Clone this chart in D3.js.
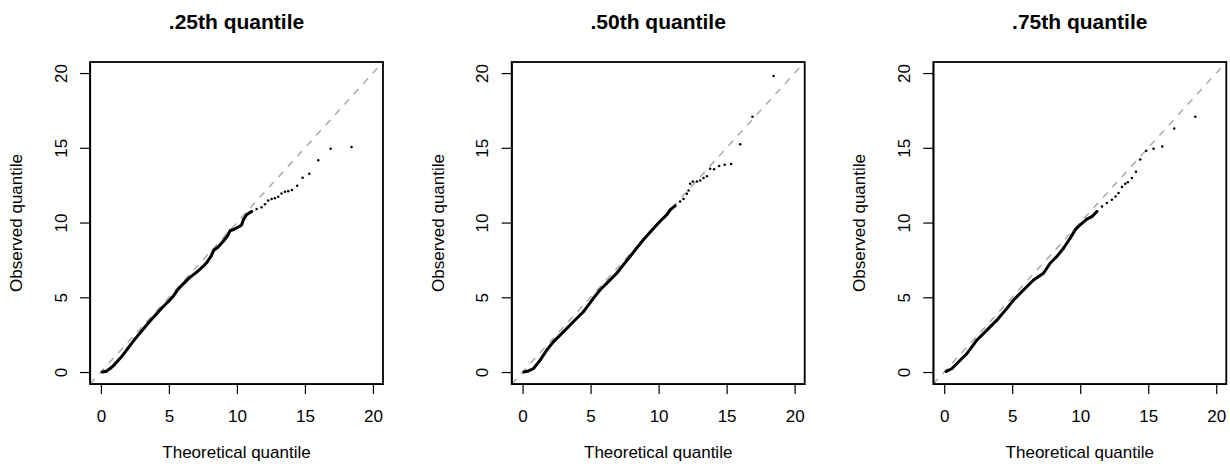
<!DOCTYPE html>
<html>
<head>
<meta charset="utf-8">
<script src="https://cdn.jsdelivr.net/npm/d3@7"></script>
<style>
	body { margin: 0; background: #fff; }
	text { font-family: 'Liberation Sans', Arial, sans-serif; fill: #000; }
</style>
</head>
<body>
<script>
// Panel titles and tick labels
const titles = ['.25th quantile', '.50th quantile', '.75th quantile']
const ticks = [0, 5, 10, 15, 20]

// .25th quantile: theoretical vs observed
const theo25 = [0.1, 0.4, 0.7, 1.0, 1.5, 2.0, 2.5, 3.0, 3.5, 4.0, 4.5, 5.0, 5.3, 5.6, 6.0, 6.5, 7.0, 7.5, 7.8, 8.1, 8.3, 8.6, 9.0, 9.3, 9.5, 9.8, 10.2, 10.35, 10.47, 10.71, 11.08, 11.45, 11.81,
	12.06, 12.3, 12.55, 12.79, 13.04, 13.28, 13.53, 13.77, 14.04, 14.43, 14.83, 15.32, 15.98, 16.89, 18.43]
const obs25 = [0.0, 0.05, 0.25, 0.5, 1.0, 1.6, 2.2, 2.75, 3.3, 3.8, 4.3, 4.75, 5.05, 5.45, 5.85, 6.3, 6.65, 7.05, 7.35, 7.75, 8.15, 8.35, 8.75, 9.1, 9.45, 9.55, 9.75, 9.85, 10.18, 10.52, 10.74, 10.9, 11.03,
	11.23, 11.48, 11.57, 11.63, 11.72, 11.95, 12.06, 12.1, 12.17, 12.46, 13.0, 13.27, 14.16, 14.93, 15.06]

// .50th quantile
const theo50 = [0.1, 0.42, 0.79, 1.28, 1.77, 2.26, 3.0, 3.73, 4.47, 5.2, 5.69, 6.18, 6.92, 7.41, 7.9, 8.39, 8.88, 9.37, 9.87, 10.35, 10.6, 10.85, 11.21, 11.58,
	11.83, 12.08, 12.2, 12.32, 12.52, 12.82, 13.06, 13.3, 13.55, 13.79, 14.08, 14.45, 14.86, 15.33, 16.0, 16.9, 18.45]
const obs50 = [0.0, 0.07, 0.22, 0.78, 1.46, 2.02, 2.69, 3.36, 4.03, 4.93, 5.49, 5.93, 6.61, 7.17, 7.73, 8.29, 8.85, 9.35, 9.85, 10.3, 10.52, 10.85, 11.12, 11.41,
	11.57, 11.93, 12.15, 12.6, 12.75, 12.75, 12.82, 12.98, 13.09, 13.6, 13.56, 13.78, 13.87, 13.92, 15.24, 17.07, 19.8]

// .75th quantile
const theo75 = [0.15, 0.56, 1.05, 1.67, 2.4, 3.14, 3.87, 4.61, 5.1, 5.83, 6.57, 7.3, 7.79, 8.28, 8.77, 9.26, 9.63, 10.0, 10.49, 10.86, 11.23,
	11.6, 11.96, 12.33, 12.6, 12.82, 13.07, 13.31, 13.5, 13.8, 14.1, 14.41, 14.85, 15.39, 16.03, 16.91, 18.46]
const obs75 = [0.04, 0.22, 0.67, 1.23, 2.13, 2.8, 3.47, 4.26, 4.82, 5.49, 6.16, 6.61, 7.28, 7.73, 8.28, 8.95, 9.51, 9.85, 10.23, 10.4, 10.74,
	11.07, 11.3, 11.52, 11.75, 11.97, 12.37, 12.6, 12.69, 12.98, 13.4, 14.21, 14.81, 14.93, 15.08, 16.29, 17.07]

// where the points are so dense they merge into a line
const denseUntil = [11.1, 11.3, 11.3]

const panels = [
	{ title: titles[0], theo: theo25, obs: obs25 },
	{ title: titles[1], theo: theo50, obs: obs50 },
	{ title: titles[2], theo: theo75, obs: obs75 }
]

const svg = d3.select('body').append('svg').attr('width', 1230).attr('height', 466)

const lefts = [90, 511.7, 933.3]
const boxW = 293
const boxTop = 62
const boxBottom = 384
const lim = [-0.8, 20.74]
const fontSize = 17

panels.forEach((p, i) => {
	const left = lefts[i]
	const x = d3.scaleLinear().domain(lim).range([left, left + boxW])
	const y = d3.scaleLinear().domain(lim).range([boxBottom, boxTop])
	const pts = p.theo.map((t, j) => ({ t: t, o: p.obs[j] }))

	const clipId = 'clip' + i
	svg.append('clipPath').attr('id', clipId)
		.append('rect').attr('x', left).attr('y', boxTop).attr('width', boxW).attr('height', boxBottom - boxTop)

	const g = svg.append('g').attr('clip-path', `url(#${clipId})`)

	// reference line y = x
	g.append('line')
		.attr('x1', x(lim[0])).attr('y1', y(lim[0]))
		.attr('x2', x(lim[1])).attr('y2', y(lim[1]))
		.attr('stroke', '#aaaaaa')
		.attr('stroke-width', 1.5)
		.attr('stroke-dasharray', '7,7')

	// dense part drawn as a thick run of points
	const line = d3.line().x(d => x(d.t)).y(d => y(d.o))
	g.append('path')
		.datum(pts.filter(d => d.t <= denseUntil[i]))
		.attr('d', line)
		.attr('fill', 'none')
		.attr('stroke', '#000')
		.attr('stroke-width', 3)
		.attr('stroke-linejoin', 'round')
		.attr('stroke-linecap', 'round')

	g.selectAll('circle.pt')
		.data(pts)
		.join('circle')
		.attr('class', 'pt')
		.attr('cx', d => x(d.t))
		.attr('cy', d => y(d.o))
		.attr('r', 1.25)
		.attr('fill', '#000')

	// box
	svg.append('rect')
		.attr('x', left).attr('y', boxTop)
		.attr('width', boxW).attr('height', boxBottom - boxTop)
		.attr('fill', 'none')
		.attr('stroke', '#000')
		.attr('stroke-width', 1.8)

	// x axis
	const gx = svg.append('g')
		.attr('transform', `translate(0,${boxBottom})`)
		.call(d3.axisBottom(x).tickValues(ticks).tickSize(10).tickSizeOuter(0).tickPadding(16))
	gx.select('.domain').attr('stroke-width', 1.2)
	gx.selectAll('.tick line').attr('stroke-width', 1.2)
	gx.selectAll('.tick text')
		.attr('font-size', fontSize)
		.attr('font-family', 'Liberation Sans, Arial, sans-serif')

	// y axis with rotated labels
	const gy = svg.append('g')
		.attr('transform', `translate(${left},0)`)
		.call(d3.axisLeft(y).tickValues(ticks).tickSize(10).tickSizeOuter(0))
	gy.select('.domain').attr('stroke-width', 1.2)
	gy.selectAll('.tick line').attr('stroke-width', 1.2)
	gy.selectAll('.tick text')
		.attr('font-size', fontSize)
		.attr('font-family', 'Liberation Sans, Arial, sans-serif')
		.attr('text-anchor', 'middle')
		.attr('transform', 'rotate(-90)')
		.attr('x', 0)
		.attr('y', -23.3)
		.attr('dy', 0)

	// titles
	svg.append('text')
		.attr('x', left + boxW / 2)
		.attr('y', 29)
		.attr('text-anchor', 'middle')
		.attr('font-size', 21)
		.attr('font-weight', 'bold')
		.text(p.title)

	svg.append('text')
		.attr('x', left + boxW / 2)
		.attr('y', 458)
		.attr('text-anchor', 'middle')
		.attr('font-size', fontSize)
		.text('Theoretical quantile')

	svg.append('text')
		.attr('transform', `translate(${left - 68},${(boxTop + boxBottom) / 2}) rotate(-90)`)
		.attr('text-anchor', 'middle')
		.attr('font-size', fontSize)
		.text('Observed quantile')
})
</script>
</body>
</html>
